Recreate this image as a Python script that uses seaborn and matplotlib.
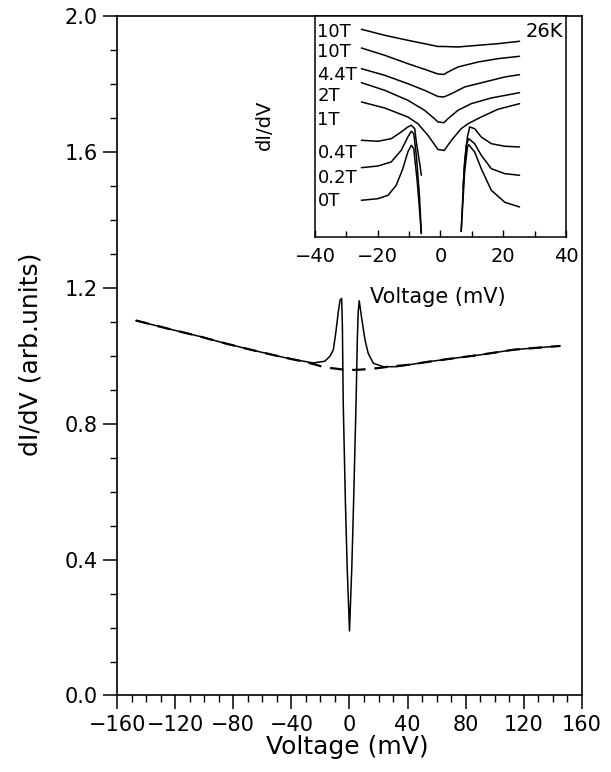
import numpy as np
import pandas as pd
import seaborn as sns
import matplotlib.pyplot as plt
from matplotlib.ticker import MultipleLocator

sns.set_style("ticks", {'axes.edgecolor': 'black', 'text.color': 'black', 'xtick.color': 'black',
                        'ytick.color': 'black', 'axes.labelcolor': 'black'})
plt.rcParams['font.family'] = ['DejaVu Sans']

# main spectrum (dI/dV vs voltage)
main_v = [-147, -125, -103, -85, -68, -46, -34, -25, -17, -13.4, -11.1, -9.3, -7.7, -6.5, -5.4,
          -4.9, -4.3, -2.8, -1.6, 0, 1.6, 2.8, 4.5, 5.4, 6.0, 6.7, 8.4, 10.7, 12.9, 16.4,
          23.3, 32.5, 41.6, 55, 67, 90, 113, 130, 145]
main_g = [1.104, 1.080, 1.057, 1.036, 1.018, 0.996, 0.986, 0.979, 0.984, 0.999, 1.018, 1.072, 1.130, 1.164, 1.169,
          1.091, 0.859, 0.566, 0.378, 0.190, 0.378, 0.566, 0.859, 1.050, 1.130, 1.162, 1.110, 1.046, 1.007, 0.978,
          0.968, 0.968, 0.974, 0.983, 0.990, 1.003, 1.018, 1.024, 1.029]

# dashed background (normal state) curve
bg_v = [-147, -125, -103, -85, -68, -46, -34, -25, -17, -9, -2, 6, 13, 20, 27, 41.6, 55, 67, 90, 113, 130, 145]
bg_g = [1.104, 1.080, 1.057, 1.036, 1.018, 0.996, 0.985, 0.976, 0.966, 0.962, 0.958, 0.959, 0.961, 0.964,
        0.968, 0.974, 0.983, 0.990, 1.003, 1.018, 1.024, 1.029]

# inset: curves in field, arbitrary offset units
ins_10a_v = [-25.2, -17.8, -10.4, -5.1, -0.8, 1.1, 5.6, 12.0, 18.3, 25.2]
ins_10a_y = [208.2, 202.2, 197.2, 193.8, 191.0, 191.0, 190.5, 192.2, 193.8, 196.2]
ins_10b_v = [-25.2, -17.8, -10.4, -5.1, -0.8, 1.1, 2.4, 5.6, 12.0, 18.3, 25.2]
ins_10b_y = [189.5, 182.2, 173.8, 168.2, 163.5, 163.0, 165.5, 170.5, 175.5, 178.8, 181.2]
ins_44_v = [-25.2, -17.8, -10.4, -5.1, -0.8, 1.1, 3.5, 7.7, 14.1, 20.5, 25.2]
ins_44_y = [168.8, 162.2, 153.8, 147.2, 141.0, 140.5, 143.8, 150.5, 155.5, 160.5, 162.8]
ins_2_v = [-25.2, -17.8, -10.4, -5.1, -1.9, -0.8, 1.1, 2.4, 5.6, 9.8, 16.2, 25.2]
ins_2_y = [154.8, 147.2, 137.2, 127.2, 118.8, 115.5, 114.8, 118.8, 127.2, 133.8, 139.5, 144.8]
ins_1_v = [-25.2, -17.8, -10.4, -7.2, -4.0, -0.8, 1.2, 3.5, 6.6, 8.8, 13.0, 18.3, 25.2]
ins_1_y = [135.5, 129.5, 120.5, 113.8, 102.2, 88.0, 87.0, 97.2, 108.8, 113.8, 120.5, 128.2, 133.8]
ins_04L_v = [-25.2, -19.9, -15.7, -12.5, -10.4, -9.3, -8.2, -7.7, -6.7, -6.1]
ins_04L_y = [97.2, 96.2, 98.8, 105.5, 110.5, 112.2, 108.8, 95.5, 75.5, 62.2]
ins_04R_v = [7.2, 7.7, 8.6, 9.3, 10.9, 13.0, 16.2, 20.5, 25.2]
ins_04R_y = [48.8, 75.5, 100.5, 110.5, 108.8, 100.5, 93.8, 91.2, 90.5]
ins_02L_v = [-25.2, -19.9, -15.7, -12.5, -10.4, -9.3, -8.5, -7.7, -6.7, -6.1]
ins_02L_y = [69.8, 71.5, 75.5, 87.2, 100.5, 106.2, 103.8, 82.2, 42.2, 4.0]
ins_02R_v = [6.6, 7.5, 8.2, 9.0, 10.9, 13.0, 16.2, 20.5, 25.2]
ins_02R_y = [6.0, 65.5, 92.2, 98.8, 93.8, 82.2, 68.8, 63.8, 62.2]
ins_0L_v = [-25.2, -19.9, -16.7, -14.1, -12.0, -10.4, -9.3, -8.5, -7.4, -6.7, -6.1]
ins_0L_y = [37.2, 38.8, 42.2, 52.2, 68.8, 85.5, 92.2, 88.8, 55.5, 28.8, 4.0]
ins_0R_v = [6.6, 7.7, 8.6, 9.0, 10.9, 13.0, 16.2, 20.5, 25.2]
ins_0R_y = [6.0, 65.5, 90.5, 92.8, 85.5, 68.8, 47.2, 35.2, 30.5]

field_labels = ['10T', '10T', '4.4T', '2T', '1T', '0.4T', '0.2T', '0T']
label_y = [205.5, 185.5, 162.5, 141, 117.5, 84, 59, 36]

segs = [('10a', ins_10a_v, ins_10a_y), ('10b', ins_10b_v, ins_10b_y), ('44', ins_44_v, ins_44_y),
        ('2', ins_2_v, ins_2_y), ('1', ins_1_v, ins_1_y),
        ('04L', ins_04L_v, ins_04L_y), ('04R', ins_04R_v, ins_04R_y),
        ('02L', ins_02L_v, ins_02L_y), ('02R', ins_02R_v, ins_02R_y),
        ('0L', ins_0L_v, ins_0L_y), ('0R', ins_0R_v, ins_0R_y)]
ins_df = pd.concat([pd.DataFrame({'seg': s, 'V': v, 'y': y}) for s, v, y in segs], ignore_index=True)

main_df = pd.DataFrame({'V': main_v, 'G': main_g})
bg_df = pd.DataFrame({'V': bg_v, 'G': bg_g})

fig = plt.figure(figsize=(6.11, 7.72), dpi=100)
ax = fig.add_axes([0.1915, 0.0991, 0.761, 0.880])

sns.lineplot(data=bg_df, x='V', y='G', ax=ax, color='black', lw=1.6, sort=False,
             estimator=None, linestyle=(0, (6, 4)))
sns.lineplot(data=main_df, x='V', y='G', ax=ax, color='black', lw=1.1, sort=False, estimator=None)

ax.set_xlim(-160, 160)
ax.set_ylim(0, 2.0)
ax.xaxis.set_major_locator(MultipleLocator(40))
ax.xaxis.set_minor_locator(MultipleLocator(10))
ax.yaxis.set_major_locator(MultipleLocator(0.4))
ax.yaxis.set_minor_locator(MultipleLocator(0.1))
ax.yaxis.set_major_formatter(plt.FormatStrFormatter('%.1f'))
ax.tick_params(which='major', length=10, width=1.1, labelsize=15, pad=4, direction='out')
ax.tick_params(which='minor', length=5, width=1.0, direction='out')
for sp in ax.spines.values():
    sp.set_linewidth(1.2)
ax.set_xlabel('Voltage (mV)', fontsize=18)
ax.set_ylabel('dI/dV (arb.units)', fontsize=18)
ax.xaxis.set_label_coords(0.496, -0.058)
ax.yaxis.set_label_coords(-0.16, 0.502)

# inset
ax_in = fig.add_axes([0.5155, 0.6924, 0.4108, 0.2869])
ax_in.set_facecolor('white')
sns.lineplot(data=ins_df, x='V', y='y', units='seg', estimator=None, sort=False,
             color='black', lw=1.1, ax=ax_in)
ax_in.set_xlim(-40, 40)
ax_in.set_ylim(0, 221.5)
ax_in.xaxis.set_major_locator(MultipleLocator(20))
ax_in.xaxis.set_minor_locator(MultipleLocator(10))
ax_in.set_yticks([])
ax_in.tick_params(axis='x', which='major', length=5, width=1.0, direction='in', labelsize=14, pad=7)
ax_in.tick_params(axis='x', which='minor', length=4, width=1.0, direction='in')
for sp in ax_in.spines.values():
    sp.set_linewidth(1.1)
ax_in.set_xlabel('Voltage (mV)', fontsize=15)
ax_in.set_ylabel('dI/dV', fontsize=14)
ax_in.xaxis.set_label_coords(0.49, -0.2235)
ax_in.yaxis.set_label_coords(-0.163, 0.508)

for lab, yy in zip(field_labels, label_y):
    ax_in.text(-39.2, yy, lab, fontsize=13, ha='left', va='center')
ax_in.text(39.0, 205.5, '26K', fontsize=14, ha='right', va='center')

fig.savefig('out.png', dpi=100)
